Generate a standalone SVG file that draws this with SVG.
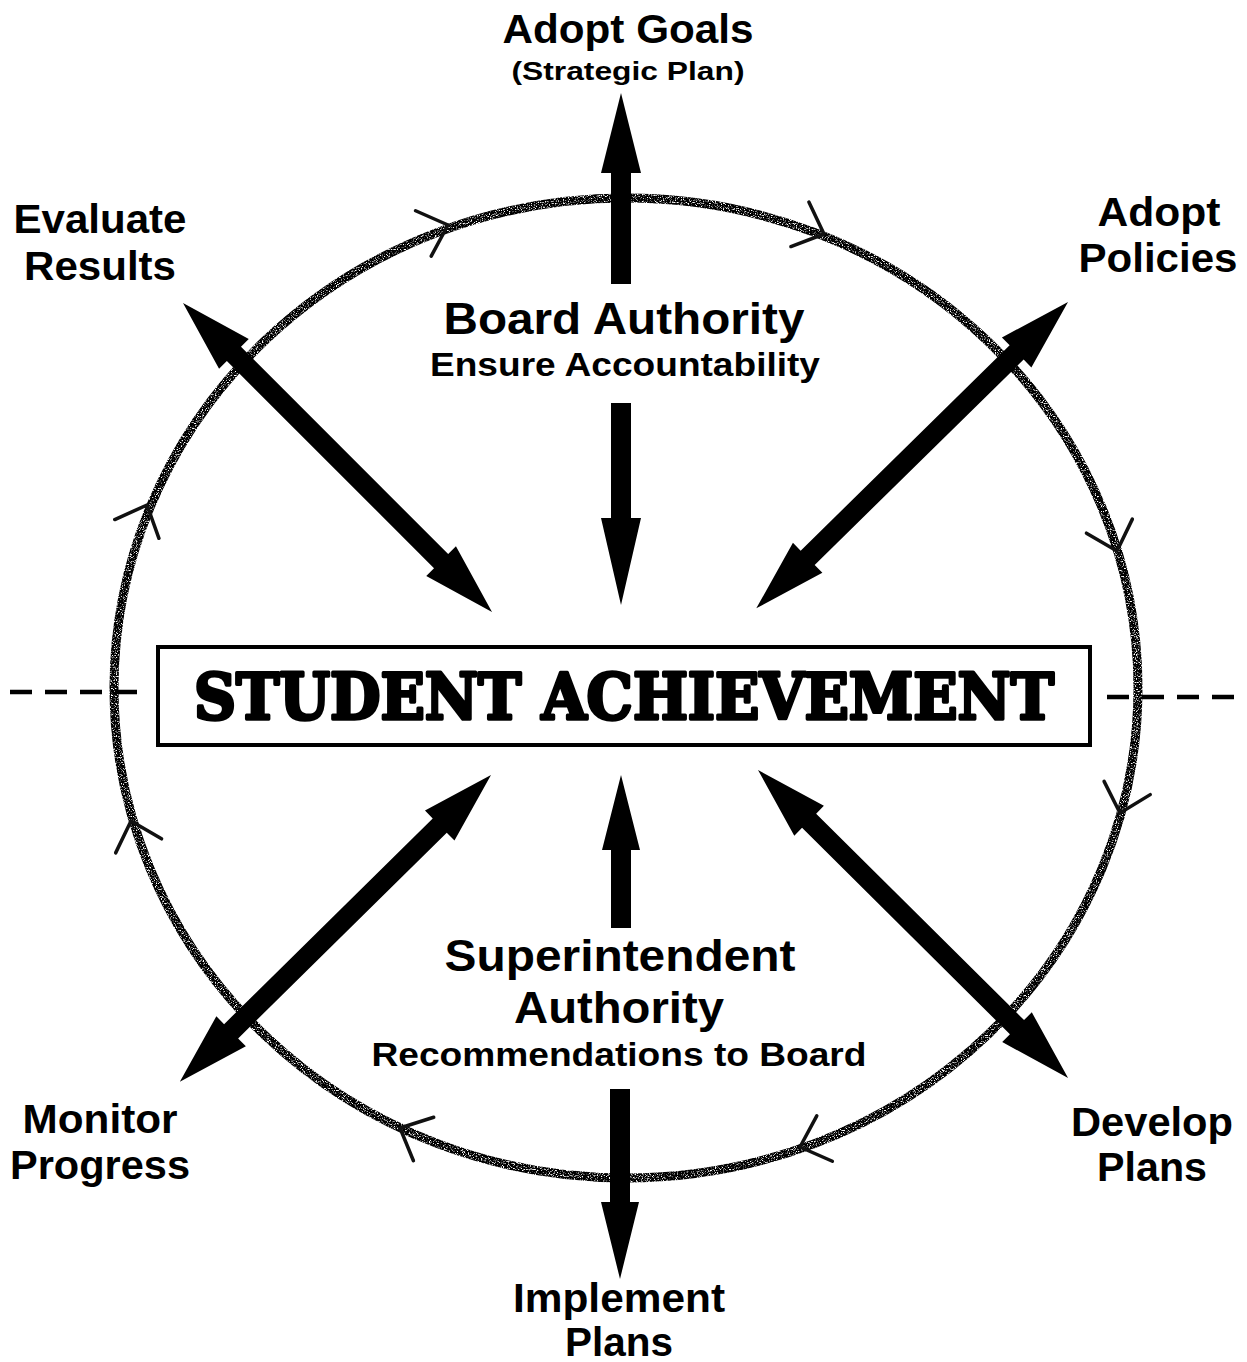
<svg xmlns="http://www.w3.org/2000/svg" width="1247" height="1362" viewBox="0 0 1247 1362">
  <defs>
    <style>
      .lbl { font-family: "Liberation Sans", Arial, sans-serif; font-weight: bold; fill: #000; text-anchor: middle; }
      .title { font-family: "DejaVu Serif", "Liberation Serif", serif; font-weight: bold; fill: #000; stroke: #000; stroke-width: 3.5; stroke-linejoin: round; }
      .arrow { fill: #000; stroke: none; }
      .chev { fill: none; stroke: #111; stroke-width: 3.5; stroke-linecap: round; stroke-linejoin: round; }
      .dash { stroke: #000; stroke-width: 4.5; stroke-dasharray: 22 13; fill: none; }
    </style>
    <!-- speckled texture for the hand-drawn cycle ring -->
    <filter id="grain" x="-5%" y="-5%" width="110%" height="110%">
      <feTurbulence type="fractalNoise" baseFrequency="0.85" numOctaves="2" seed="7" result="noise"/>
      <feColorMatrix in="noise" type="matrix" values="0 0 0 0 0  0 0 0 0 0  0 0 0 0 0  4.5 0 0 0 -1.2" result="mask"/>
      <feComposite in="SourceGraphic" in2="mask" operator="in"/>
    </filter>
    <!-- double-headed arrow drawn along +x, length 437 -->
    <path id="dbl" d="M0,0 L72,-21 L72,-10 L365,-10 L365,-21 L437,0 L365,21 L365,10 L72,10 L72,21 Z"/>
    <!-- open chevron pointing along +x, tip at origin -->
    <path id="chev" d="M-26,-24 L0,0 L-26,24"/>
  </defs>

  <rect width="1247" height="1362" fill="#fff"/>

  <!-- cycle ring with direction chevrons (clockwise) -->
  <g id="cycle">
    <ellipse cx="626" cy="688" rx="512" ry="490" fill="none" stroke="#000" stroke-width="9" filter="url(#grain)"/>
    <g class="chev">
      <use href="#chev" transform="translate(448,225) rotate(-19)"/>
      <use href="#chev" transform="translate(824,234) rotate(22)"/>
      <use href="#chev" transform="translate(1117,551) rotate(73)"/>
      <use href="#chev" transform="translate(1120,813) rotate(106)"/>
      <use href="#chev" transform="translate(800,1147) rotate(161)"/>
      <use href="#chev" transform="translate(400,1128) rotate(-155)"/>
      <use href="#chev" transform="translate(131,821) rotate(-107)"/>
      <use href="#chev" transform="translate(147,505) rotate(-67)"/>
    </g>
  </g>

  <!-- horizontal dashed axis -->
  <g id="axis">
    <line class="dash" x1="10" y1="692" x2="140" y2="692"/>
    <line class="dash" x1="1107" y1="697" x2="1242" y2="697"/>
  </g>

  <!-- connectors -->
  <g id="connectors" class="arrow">
    <path d="M621,93 L641,173 H631 V284 H611 V173 H601 Z"/>
    <path d="M611,403 H631 V518 H641 L621,605 L601,518 H611 Z"/>
    <path d="M621,775 L640,850 H631 V928 H611 V850 H602 Z"/>
    <path d="M610,1089 H630 V1202 H639 L620,1279 L601,1202 H610 Z"/>
    <use href="#dbl" transform="translate(183,303) rotate(45)"/>
    <use href="#dbl" transform="translate(1068,302) rotate(135.5)"/>
    <use href="#dbl" transform="translate(491,775) rotate(135.4)"/>
    <use href="#dbl" transform="translate(758,770) rotate(44.8)"/>
  </g>

  <!-- central box -->
  <g id="student-achievement">
    <rect x="158" y="647" width="932" height="98" fill="#fff" stroke="#000" stroke-width="4"/>
    <text class="title" x="194" y="719" font-size="64" textLength="860" lengthAdjust="spacingAndGlyphs">STUDENT ACHIEVEMENT</text>
  </g>

  <g id="adopt-goals">
    <text class="lbl" x="628" y="43" font-size="40" textLength="251" lengthAdjust="spacingAndGlyphs">Adopt Goals</text>
    <text class="lbl" x="628" y="80" font-size="26" textLength="233" lengthAdjust="spacingAndGlyphs">(Strategic Plan)</text>
  </g>

  <g id="evaluate-results">
    <text class="lbl" x="100" y="233" font-size="40" textLength="173" lengthAdjust="spacingAndGlyphs">Evaluate</text>
    <text class="lbl" x="100" y="280" font-size="40" textLength="152" lengthAdjust="spacingAndGlyphs">Results</text>
  </g>

  <g id="adopt-policies">
    <text class="lbl" x="1159" y="226" font-size="40" textLength="123" lengthAdjust="spacingAndGlyphs">Adopt</text>
    <text class="lbl" x="1158" y="272" font-size="40" textLength="159" lengthAdjust="spacingAndGlyphs">Policies</text>
  </g>

  <g id="board-authority">
    <text class="lbl" x="624" y="334" font-size="44" textLength="361" lengthAdjust="spacingAndGlyphs">Board Authority</text>
    <text class="lbl" x="625" y="376" font-size="33" textLength="390" lengthAdjust="spacingAndGlyphs">Ensure Accountability</text>
  </g>

  <g id="superintendent-authority">
    <text class="lbl" x="620" y="971" font-size="44" textLength="351" lengthAdjust="spacingAndGlyphs">Superintendent</text>
    <text class="lbl" x="619" y="1023" font-size="44" textLength="210" lengthAdjust="spacingAndGlyphs">Authority</text>
    <text class="lbl" x="619" y="1066" font-size="33" textLength="495" lengthAdjust="spacingAndGlyphs">Recommendations to Board</text>
  </g>

  <g id="monitor-progress">
    <text class="lbl" x="100" y="1133" font-size="40" textLength="155" lengthAdjust="spacingAndGlyphs">Monitor</text>
    <text class="lbl" x="100" y="1179" font-size="40" textLength="180" lengthAdjust="spacingAndGlyphs">Progress</text>
  </g>

  <g id="develop-plans">
    <text class="lbl" x="1152" y="1136" font-size="40" textLength="162" lengthAdjust="spacingAndGlyphs">Develop</text>
    <text class="lbl" x="1152" y="1181" font-size="40" textLength="110" lengthAdjust="spacingAndGlyphs">Plans</text>
  </g>

  <g id="implement-plans">
    <text class="lbl" x="619" y="1312" font-size="40" textLength="212" lengthAdjust="spacingAndGlyphs">Implement</text>
    <text class="lbl" x="619" y="1356" font-size="40" textLength="108" lengthAdjust="spacingAndGlyphs">Plans</text>
  </g>
</svg>
